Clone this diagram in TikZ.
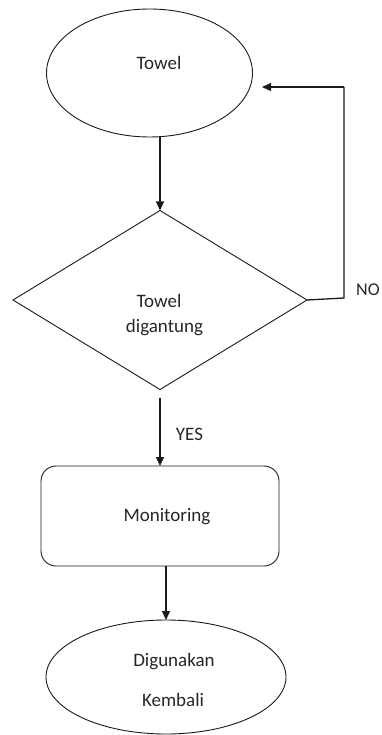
\documentclass[tikz,border=0pt]{standalone}
\usepackage{fontspec}
\setmainfont{Carlito}
\usetikzlibrary{shapes.geometric,arrows.meta}
\definecolor{ink}{HTML}{1A1A1A}
\definecolor{txt}{HTML}{262626}
\tikzset{
  shapeline/.style={draw=ink, line width=0.9pt, inner sep=0pt, outer sep=0pt},
  term/.style={shapeline, ellipse},
  decide/.style={shapeline, diamond},
  procbox/.style={shapeline, rectangle, rounded corners=15pt},
  lbl/.style={text=txt, font=\fontsize{19}{23}\selectfont, anchor=base, inner sep=0pt},
  flow/.style={draw=ink, line width=1.3pt, -{Triangle[length=9pt,width=8pt]}},
  flowline/.style={draw=ink, line width=1.3pt},
}
\begin{document}
\begin{tikzpicture}[x=1pt,y=-1pt]
\useasboundingbox (0,0) rectangle (381,735);
% shapes
\node[term, minimum width=206pt, minimum height=128pt] (e1) at (149.5,73) {};
\node[decide, minimum width=294pt, minimum height=179pt, aspect=1.64] (d) at (160,300) {};
\node[procbox, minimum width=238pt, minimum height=100pt] (m) at (160,516) {};
\node[term, minimum width=240pt, minimum height=114pt] (e2) at (166,677) {};
% texts
\node[lbl] (t1) at (159,70) {Towel};
\node[lbl] (t2a) at (159,307) {Towel};
\node[lbl] (t2b) at (164.5,332.7) {digantung};
\node[lbl] (t3) at (167,521.7) {Monitoring};
\node[lbl] (t4a) at (174,666.7) {Digunakan};
\node[lbl] (t4b) at (173,706) {Kembali};
\node[lbl, anchor=base west] (yes) at (175.7,440.7) {YES};
\node[lbl, anchor=base west, font=\fontsize{18}{22}\selectfont] (no) at (356,295) {NO};
% connectors
\coordinate (nb) at (344,298);
\coordinate (nt) at (344,87);
\coordinate (ntip) at (262,87);
\draw[flow] (d.north |- e1.south) -- (d.north);
\draw[flowline] (d.east) -- (nb) -- (nt);
\draw[flow] (nt) -- (ntip);
\draw[flow, shorten <=8pt] (d.south) -- (m.north);
\draw[flow] (e2.north |- m.south) -- (e2.north);
\end{tikzpicture}
\end{document}
